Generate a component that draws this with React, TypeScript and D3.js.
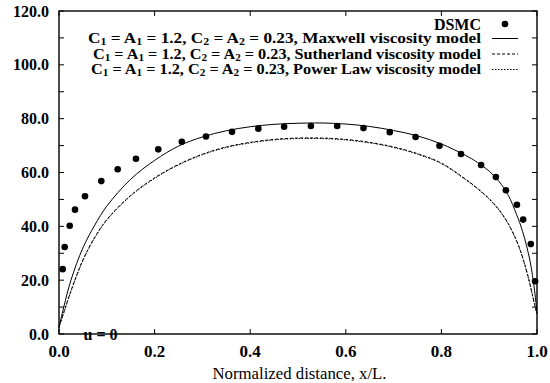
import React from "react";
import * as d3 from "d3";

const dsmcX = [0.0077, 0.0119, 0.0224, 0.0335, 0.0544, 0.0885, 0.1228, 0.161, 0.2077, 0.257, 0.3075, 0.362, 0.417, 0.471, 0.527, 0.582, 0.637, 0.692, 0.746, 0.796, 0.841, 0.883, 0.914, 0.935, 0.958, 0.971, 0.987, 0.996];
const dsmcY = [24.1, 32.3, 40.2, 46.2, 51.2, 56.8, 61.2, 65.1, 68.6, 71.4, 73.4, 75.1, 76.3, 77.0, 77.3, 77.3, 76.5, 75.0, 73.2, 69.9, 66.9, 62.8, 58.3, 53.4, 48.0, 42.5, 33.4, 19.6];

const maxwellX = [0, 0.01, 0.025, 0.05, 0.075, 0.1, 0.15, 0.2, 0.25, 0.3, 0.35, 0.4, 0.45, 0.5, 0.55, 0.6, 0.65, 0.7, 0.75, 0.8, 0.85, 0.875, 0.9, 0.92, 0.94, 0.957, 0.97, 0.985, 0.995, 1.0];
const maxwellY = [2.5, 10, 20, 32, 40.5, 47.5, 57.5, 64.5, 69.8, 73.2, 75.5, 77.0, 77.9, 78.3, 78.4, 78.0, 77.1, 75.6, 73.6, 70.6, 66.4, 63.8, 60.5, 56.8, 51.5, 44.5, 38, 27.5, 16, 8];

const sutherlandX = [0, 0.01, 0.025, 0.05, 0.075, 0.1, 0.15, 0.2, 0.25, 0.3, 0.35, 0.4, 0.45, 0.5, 0.55, 0.6, 0.65, 0.7, 0.75, 0.8, 0.85, 0.875, 0.9, 0.92, 0.94, 0.96, 0.975, 0.985, 0.995, 1.0];
const sutherlandY = [2.5, 8, 16, 27.5, 36, 42.5, 51.5, 58, 63, 66.8, 69.5, 71.2, 72.3, 72.8, 72.8, 72.3, 71.2, 69.5, 67.0, 63.5, 57.6, 54.2, 50.3, 46.3, 41, 33.5, 25.5, 18.8, 11, 7.5];

const powerX = [0, 0.01, 0.025, 0.05, 0.075, 0.1, 0.15, 0.2, 0.25, 0.3, 0.35, 0.4, 0.45, 0.5, 0.55, 0.6, 0.65, 0.7, 0.75, 0.8, 0.85, 0.875, 0.9, 0.92, 0.94, 0.96, 0.975, 0.985, 0.995, 1.0];
const powerY = [2.5, 7.9, 15.8, 27.3, 35.8, 42.3, 51.3, 57.8, 62.8, 66.6, 69.3, 71.0, 72.1, 72.6, 72.6, 72.1, 71.0, 69.3, 66.8, 63.3, 57.4, 54.0, 50.1, 46.1, 40.8, 33.3, 25.3, 18.6, 10.9, 7.5];

const xTickLabels = ["0.0", "0.2", "0.4", "0.6", "0.8", "1.0"];
const yTickLabels = ["0.0", "20.0", "40.0", "60.0", "80.0", "100.0", "120.0"];
const legendModels = ["Maxwell", "Sutherland", "Power Law"];

const W = 550, H = 383;
const L = 59, R = 537, T = 11, B = 334;

export default function App() {
  const x = d3.scaleLinear().domain([0, 1]).range([L, R]);
  const y = d3.scaleLinear().domain([0, 120]).range([B, T]);
  const line = d3.line<[number, number]>().x(d => x(d[0])).y(d => y(d[1])).curve(d3.curveCatmullRom.alpha(0.5));
  const zip = (a: number[], b: number[]) => a.map((v, i) => [v, b[i]] as [number, number]);

  const yTicks = d3.range(0, 121, 10);
  const xTicks = d3.range(0, 1.0001, 0.2);
  const font = "'Liberation Serif', 'Times New Roman', serif";
  const legendRowY = [24, 38.5, 54, 69.5];
  const styles = [
    { dash: "none", w: 1 },
    { dash: "3,2", w: 1 },
    { dash: "1.5,1.5", w: 1 },
  ];
  const series = [zip(maxwellX, maxwellY), zip(sutherlandX, sutherlandY), zip(powerX, powerY)];
  const lfs = 14.5;
  const lens = [393, 388, 390];

  return (
    <svg width={W} height={H} style={{ position: "absolute", left: 0, top: 0, background: "#fff" }}>
      <rect x={0} y={0} width={W} height={H} fill="#fff" />
      {series.map((s, i) => (
        <path key={i} d={line(s) || ""} fill="none" stroke="#000" strokeWidth={styles[i].w} strokeDasharray={styles[i].dash} />
      ))}
      {dsmcX.map((v, i) => (
        <circle key={i} cx={x(v)} cy={y(dsmcY[i])} r={3.3} fill="#000" />
      ))}
      {yTicks.map(t => (
        <g key={"yt" + t}>
          <line x1={L} x2={L + 5} y1={y(t)} y2={y(t)} stroke="#000" />
          <line x1={R} x2={R - 5} y1={y(t)} y2={y(t)} stroke="#000" />
        </g>
      ))}
      {xTicks.map((t, i) => (
        <g key={"xt" + i}>
          <line x1={x(t)} x2={x(t)} y1={B} y2={B - 5} stroke="#000" />
          <line x1={x(t)} x2={x(t)} y1={T} y2={T + 5} stroke="#000" />
        </g>
      ))}
      <rect x={L} y={T} width={R - L} height={B - T} fill="none" stroke="#000" strokeWidth={1.4} />
      {yTickLabels.map((lab, i) => (
        <text key={"yl" + i} x={L - 10} y={y(i * 20)} dy="0.35em" textAnchor="end" fontFamily={font} fontWeight="bold" fontSize={16}>{lab}</text>
      ))}
      {xTickLabels.map((lab, i) => (
        <text key={"xl" + i} x={x(i * 0.2)} y={357} textAnchor="middle" fontFamily={font} fontWeight="bold" fontSize={17}>{lab}</text>
      ))}
      <text x={299.5} y={379} textAnchor="middle" fontFamily={font} fontSize={16} textLength={174} lengthAdjust="spacingAndGlyphs">Normalized distance, x/L.</text>
      <text x={100.5} y={B} dy="0.35em" textAnchor="middle" fontFamily={font} fontWeight="bold" fontSize={16}>u = 0</text>
      <text x={481} y={legendRowY[0]} dy="0.35em" textAnchor="end" fontFamily={font} fontWeight="bold" fontSize={16}>DSMC</text>
      <circle cx={505} cy={legendRowY[0]} r={3.3} fill="#000" />
      {legendModels.map((m, i) => (
        <g key={"lg" + i}>
          <text x={481} y={legendRowY[i + 1]} dy="0.32em" textAnchor="end" fontFamily={font} fontWeight="bold" fontSize={lfs}
            textLength={lens[i]} lengthAdjust="spacingAndGlyphs">
            C<tspan fontSize={10} dy="2">1</tspan>
            <tspan dy="-2"> = A</tspan><tspan fontSize={10} dy="2">1</tspan>
            <tspan dy="-2"> = 1.2, C</tspan><tspan fontSize={10} dy="2">2</tspan>
            <tspan dy="-2"> = A</tspan><tspan fontSize={10} dy="2">2</tspan>
            <tspan dy="-2">{` = 0.23, ${m} viscosity model`}</tspan>
          </text>
          <line x1={492} x2={518} y1={legendRowY[i + 1]} y2={legendRowY[i + 1]} stroke="#000" strokeWidth={1} strokeDasharray={styles[i].dash} />
        </g>
      ))}
    </svg>
  );
}
